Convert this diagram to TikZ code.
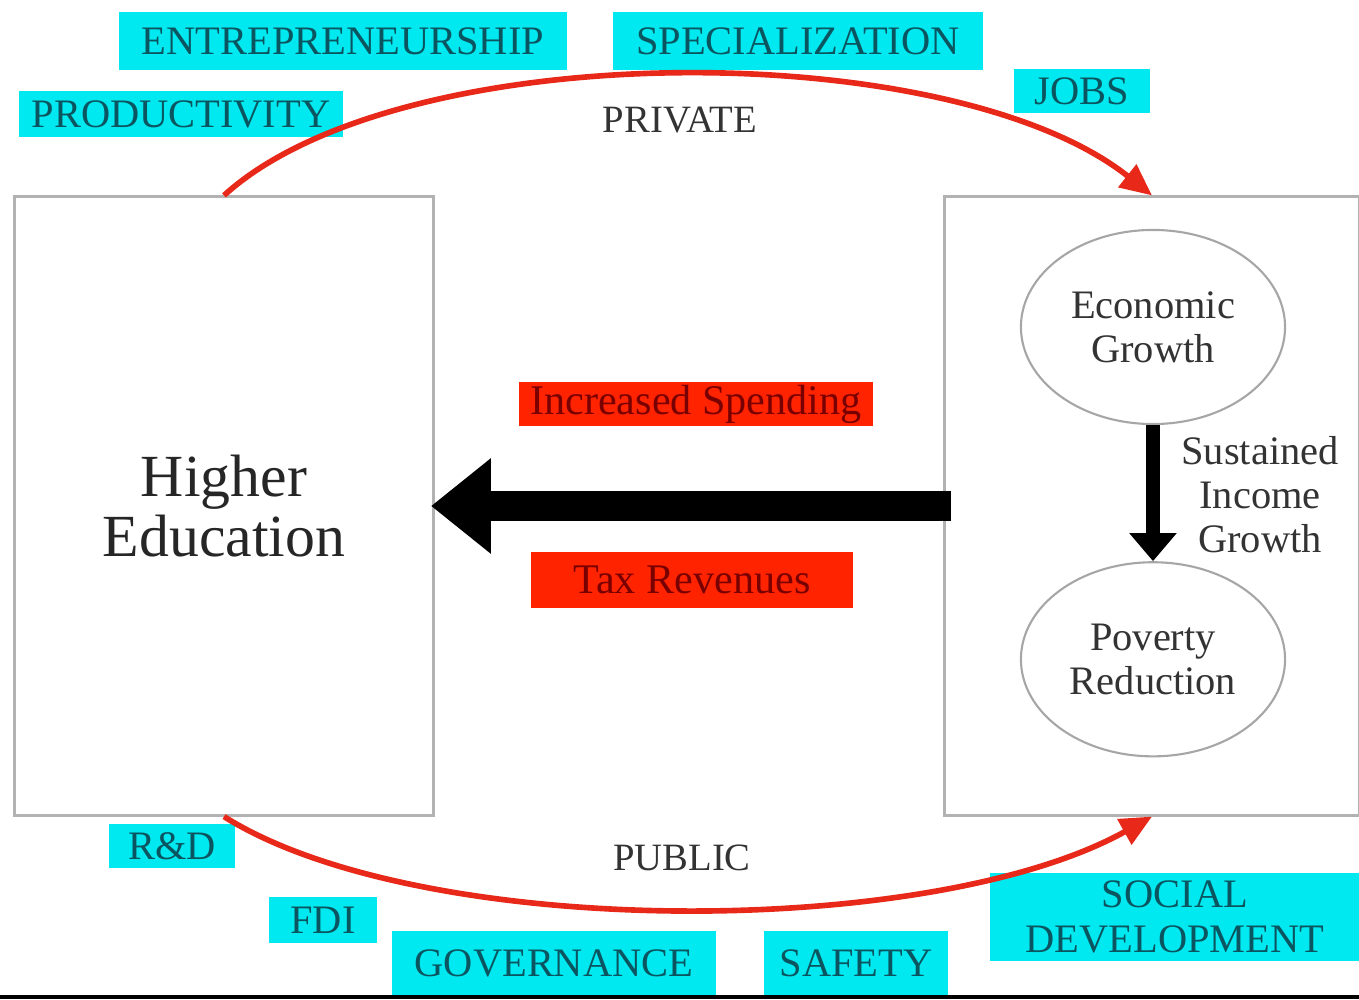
\documentclass[tikz,border=0pt]{standalone}
\usepackage{fontspec}
\setmainfont{Liberation Serif}
\usetikzlibrary{arrows.meta,positioning,shapes.geometric}
\definecolor{tagcyan}{RGB}{0,232,240}
\definecolor{tagtext}{RGB}{10,85,95}
\definecolor{flowred}{RGB}{232,40,25}
\definecolor{boxred}{RGB}{255,35,0}
\definecolor{boxtext}{RGB}{120,0,0}

\begin{document}
\begin{tikzpicture}[
  x=0.01cm,y=-0.01cm,
  node distance=1.36cm,
  tag/.style={fill=tagcyan,text=tagtext,inner sep=0pt,align=center,font=\fontsize{11.5}{13}\selectfont},
  flowbox/.style={fill=boxred,text=boxtext,inner sep=0pt,font=\fontsize{12}{14}\selectfont},
  panel/.style={draw=gray!60,line width=0.8pt,inner sep=0pt,align=center},
  goal/.style={ellipse,draw=gray!70,line width=0.6pt,minimum width=2.64cm,minimum height=1.94cm,inner sep=0pt,align=center,text=black!80,font=\fontsize{11.5}{12.5}\selectfont},
  flow/.style={flowred,line width=1.6pt,-{Triangle[length=9pt,width=8pt]}}
]
  \useasboundingbox (0,0) rectangle (1359,1000);

  % panels
  \node[panel,minimum width=4.18cm,minimum height=6.18cm,text=black!85,font=\fontsize{17}{17}\selectfont] (hedu) at (224,506) {Higher\\Education};
  \node[panel,minimum width=4.14cm,minimum height=6.18cm] (outcome) at (1152,506) {};
  \node[goal] (econ) at (1153,327) {Economic\\Growth};
  \node[goal,below=of econ] (poverty) {Poverty\\Reduction};
  \node[align=center,text=black!80,font=\fontsize{11.5}{12.5}\selectfont] (income) at (1260,495) {Sustained\\Income\\Growth};

  % flow boxes
  \node[flowbox,minimum width=3.54cm,minimum height=0.43cm] (spend) at (696,404) {Increased Spending};
  \node[flowbox,minimum width=3.21cm,minimum height=0.55cm] (tax) at (692,580) {Tax Revenues};

  % benefit tags
  \node[tag,minimum width=4.47cm,minimum height=0.57cm] (entre) at (343,41) {ENTREPRENEURSHIP};
  \node[tag,minimum width=3.69cm,minimum height=0.57cm] (spec) at (798,41) {SPECIALIZATION};
  \node[tag,minimum width=1.36cm,minimum height=0.43cm] (jobs) at (1082,91) {JOBS};
  \node[tag,minimum width=3.23cm,minimum height=0.45cm] (prod) at (181,114) {PRODUCTIVITY};
  \node[tag,minimum width=1.25cm,minimum height=0.43cm] (rnd) at (172,846) {R\&D};
  \node[tag,minimum width=1.07cm,minimum height=0.45cm] (fdi) at (323,920) {FDI};
  \node[tag,minimum width=3.24cm,minimum height=0.63cm] (gov) at (554,963) {GOVERNANCE};
  \node[tag,minimum width=1.83cm,minimum height=0.63cm] (safety) at (856,963) {SAFETY};
  \node[tag,minimum width=3.69cm,minimum height=0.88cm] (social) at (1175,917) {SOCIAL\\DEVELOPMENT};

  % channels
  \node[text=black!80,font=\fontsize{11}{12}\selectfont] (private) at (680,120) {PRIVATE};
  \node[text=black!80,font=\fontsize{11}{12}\selectfont] (public) at (682,858) {PUBLIC};
  \draw[flow] (hedu.north) .. controls (400,35) and (950,35) .. (outcome.north);
  \draw[flow] (hedu.south) .. controls (420,940) and (930,940) .. (outcome.south);

  \draw[line width=8.5pt,-{Triangle[length=17pt,width=26pt]}] ([xshift=2pt]outcome.west) -- ([xshift=-1pt]hedu.east);
  \draw[line width=4pt,-{Triangle[length=8pt,width=13pt]}] (econ.south) -- (poverty.north);

  \draw[line width=1.2pt] (0,997) -- (1359,997);
\end{tikzpicture}
\end{document}
